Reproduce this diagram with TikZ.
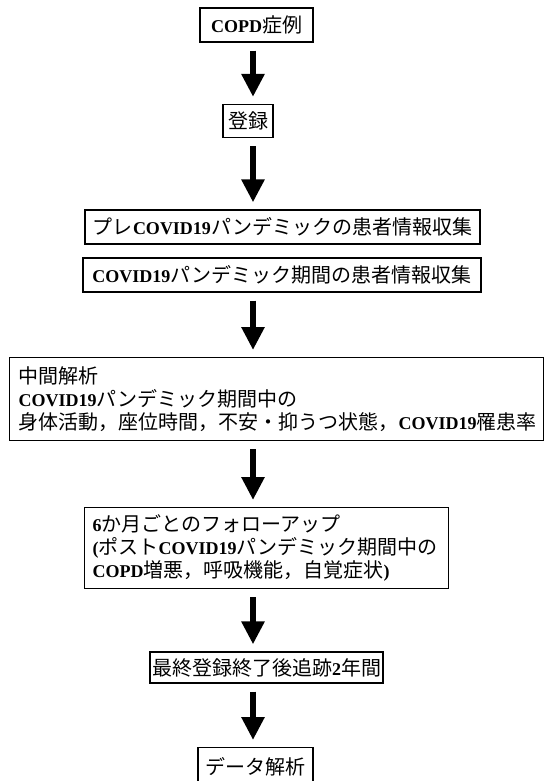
\documentclass[tikz,border=0pt]{standalone}
\usepackage{fontspec}
\setmainfont{Liberation Serif}
\newfontfamily\jpfont{Noto Sans CJK JP}
\usetikzlibrary{arrows.meta}
\newcommand\lt[1]{{\rmfamily\bfseries\fontsize{18}{23}\selectfont #1}}
\tikzset{
  box/.style={draw=black, line width=1.3pt, inner sep=0pt, align=center,
    font=\jpfont\fontsize{20}{23}\selectfont},
  mbox/.style={box, align=left, anchor=north west, inner xsep=9pt},
  bigarrow/.style={line width=6.5pt, -{Triangle[width=22pt,length=23pt]},
    shorten <=8pt, shorten >=7pt}
}
\begin{document}
\begin{tikzpicture}[x=1pt,y=-1pt]
\fill[white] (0,0) rectangle (546,781);
\useasboundingbox (0,0) rectangle (546,781);
\coordinate (ax) at (253,0);
\node[box, minimum width=113pt, minimum height=34pt] (b1) at (256.5,25) {\lt{COPD}症例};
\node[box, minimum width=50pt, minimum height=33pt] (b2) at (248,121) {登録};
\node[box, minimum width=395pt, minimum height=34pt] (b3) at (282.5,227) {プレ\lt{COVID19}パンデミックの患者情報収集};
\node[box, minimum width=398pt, minimum height=34pt] (b4) at (282,275) {\lt{COVID19}パンデミック期間の患者情報収集};
\node[mbox, minimum width=534pt, minimum height=83pt, text width=516pt] (b5) at (9,357)
  {中間解析\\ \lt{COVID19}パンデミック期間中の\\ 身体活動，座位時間，不安・抑うつ状態，\lt{COVID19}罹患率};
\node[mbox, minimum width=364pt, minimum height=81pt, text width=348pt, inner xsep=8pt] (b6) at (84,507)
  {\lt{6}か月ごとのフォローアップ\\ \lt{(}ポスト\lt{COVID19}パンデミック期間中の\\ \lt{COPD}増悪，呼吸機能，自覚症状\lt{)}};
\node[box, minimum width=233pt, minimum height=31pt] (b7) at (266.5,667.5) {最終登録終了後追跡\lt{2}年間};
\node[box, minimum width=115pt, minimum height=38pt, anchor=north] (b8) at (255.5,747) {データ解析};
\draw[bigarrow] (b1.south -| ax) -- (b2.north -| ax);
\draw[bigarrow] (b2.south -| ax) -- (b3.north -| ax);
\draw[bigarrow] (b4.south -| ax) -- (b5.north -| ax);
\draw[bigarrow] (b5.south -| ax) -- (b6.north -| ax);
\draw[bigarrow] (b6.south -| ax) -- (b7.north -| ax);
\draw[bigarrow] (b7.south -| ax) -- (b8.north -| ax);
\end{tikzpicture}
\end{document}
